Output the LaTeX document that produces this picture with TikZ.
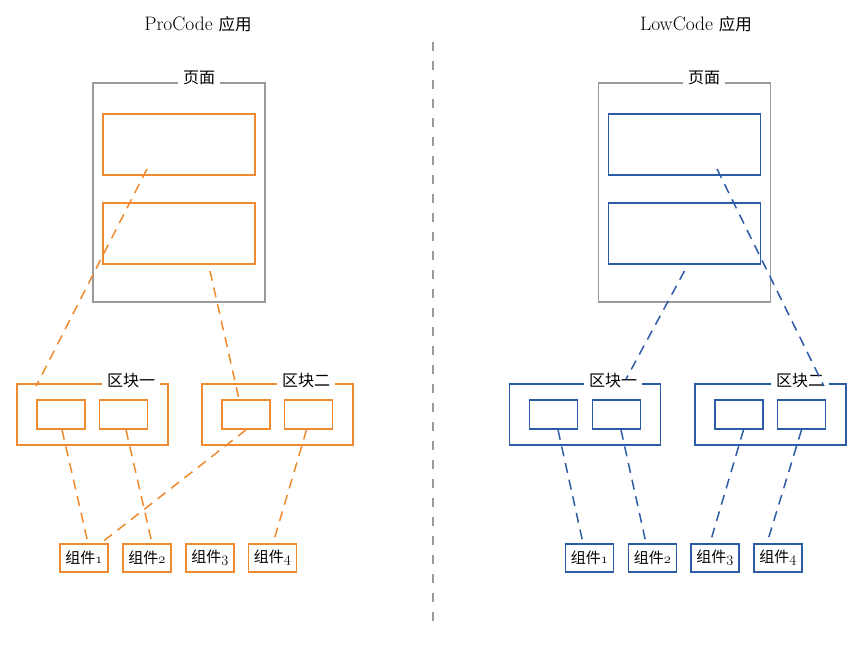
\documentclass[tikz,border=0pt]{standalone}
\usepackage{fontspec}
\newfontfamily\cjk{Noto Sans CJK SC}
\usepackage{tikz}

\definecolor{procode}{HTML}{EF8A2E}
\definecolor{lowcode}{HTML}{2C5CA6}
\definecolor{pagegray}{HTML}{9A9A9A}

\newcommand\osn[1]{\ensuremath{\mathnormal{#1}}}

\tikzset{
	pagebox/.style={draw=pagegray, line width=1.6pt, minimum width=172pt, minimum height=219pt, inner sep=0pt},
	secbox/.style={line width=1.8pt, minimum width=152pt, minimum height=61pt, inner sep=0pt},
	blockbox/.style={line width=1.8pt, minimum width=151pt, minimum height=61pt, inner sep=0pt},
	slotbox/.style={line width=1.8pt, minimum width=48pt, minimum height=29pt, inner sep=0pt},
	compbox/.style={line width=1.8pt, minimum width=48pt, minimum height=28pt, inner sep=0pt, font=\fontsize{15}{17}\selectfont},
	boxlabel/.style={fill=white, inner xsep=5pt, inner ysep=1pt, font=\fontsize{16}{18}\selectfont\cjk},
	titlelabel/.style={font=\fontsize{19.5}{22}\selectfont},
	link/.style={line width=1.5pt, dash pattern=on 10pt off 7pt},
}

\begin{document}
\begin{tikzpicture}[x=1pt, y=-1pt]
		\useasboundingbox (0,0) rectangle (866,645);
		
		\draw[pagegray, line width=1.4pt, dash pattern=on 9pt off 10pt] (433,42) -- (433,628);
		
		% ProCode
		\node[titlelabel] (pl_title) at (198,24) {ProCode {\fontsize{16.5}{20}\selectfont\cjk 应用}};
		\node[pagebox] (pl_page) at (179,192.5) {};
		\node[boxlabel] (pl_page_t) at (199,78) {页面};
		\node[secbox, draw=procode] (pl_sec1) at (179,144.5) {};
		\node[secbox, draw=procode] (pl_sec2) at (179,233.5) {};
		
		\node[blockbox, draw=procode] (pl_blk1) at (92.5,414.5) {};
		\node[boxlabel] (pl_blk1_t) at (131,381) {区块一};
		\node[slotbox, draw=procode] (pl_blk1a) at (61,414.5) {};
		\node[slotbox, draw=procode] (pl_blk1b) at (123.5,414.5) {};
		
		\node[blockbox, draw=procode] (pl_blk2) at (277.5,414.5) {};
		\node[boxlabel] (pl_blk2_t) at (306,381) {区块二};
		\node[slotbox, draw=procode] (pl_blk2a) at (246,414.5) {};
		\node[slotbox, draw=procode] (pl_blk2b) at (308.5,414.5) {};
		
		\node[compbox, draw=procode] (pl_comp1) at (84,558) {{\cjk 组件}\osn{1}};
		\node[compbox, draw=procode] (pl_comp2) at (147,558) {{\cjk 组件}\osn{2}};
		\node[compbox, draw=procode] (pl_comp3) at (210,558) {{\cjk 组件}\osn{3}};
		\node[compbox, draw=procode] (pl_comp4) at (272.5,558) {{\cjk 组件}\osn{4}};
		
		\draw[link, procode] ([xshift=-32pt,yshift=7pt]pl_sec1.south) -- ([xshift=20pt,yshift=-3pt]pl_blk1.north west);
		\draw[link, procode] ([xshift=31pt,yshift=-6pt]pl_sec2.south) -- ([xshift=-7pt]pl_blk2a.north);
		\draw[link, procode] ([xshift=1pt]pl_blk1a.south) -- ([xshift=4pt]pl_comp1.north);
		\draw[link, procode] ([xshift=2.5pt]pl_blk1b.south) -- ([xshift=5pt]pl_comp2.north);
		\draw[link, procode] (pl_blk2a.south) -- ([xshift=-8pt]pl_comp1.north east);
		\draw[link, procode] ([xshift=-2pt]pl_blk2b.south) -- ([xshift=0.5pt]pl_comp4.north);
		
		% LowCode
		\node[titlelabel] (pr_title) at (696,24) {LowCode {\fontsize{16.5}{20}\selectfont\cjk 应用}};
		\node[pagebox] (pr_page) at (684.5,192.5) {};
		\node[boxlabel] (pr_page_t) at (704,78) {页面};
		\node[secbox, draw=lowcode] (pr_sec1) at (684.5,144.5) {};
		\node[secbox, draw=lowcode] (pr_sec2) at (684.5,233.5) {};
		
		\node[blockbox, draw=lowcode] (pr_blk1) at (585,414.5) {};
		\node[boxlabel] (pr_blk1_t) at (613,381) {区块一};
		\node[slotbox, draw=lowcode] (pr_blk1a) at (553.5,414.5) {};
		\node[slotbox, draw=lowcode] (pr_blk1b) at (616.5,414.5) {};
		
		\node[blockbox, draw=lowcode] (pr_blk2) at (770.5,414.5) {};
		\node[boxlabel] (pr_blk2_t) at (800,381) {区块二};
		\node[slotbox, draw=lowcode] (pr_blk2a) at (739,414.5) {};
		\node[slotbox, draw=lowcode] (pr_blk2b) at (801.5,414.5) {};
		
		\node[compbox, draw=lowcode] (pr_comp1) at (589.5,558) {{\cjk 组件}\osn{1}};
		\node[compbox, draw=lowcode] (pr_comp2) at (652.5,558) {{\cjk 组件}\osn{2}};
		\node[compbox, draw=lowcode] (pr_comp3) at (715,558) {{\cjk 组件}\osn{3}};
		\node[compbox, draw=lowcode] (pr_comp4) at (778,558) {{\cjk 组件}\osn{4}};
		
		\draw[link, lowcode] ([xshift=32.5pt,yshift=7pt]pr_sec1.south) -- ([xshift=-23pt,yshift=-3pt]pr_blk2.north east);
		\draw[link, lowcode] ([yshift=-6pt]pr_sec2.south) -- ([xshift=41pt,yshift=4pt]pr_blk1.north);
		\draw[link, lowcode] ([xshift=4.5pt]pr_blk1a.south) -- ([xshift=-6.5pt]pr_comp1.north);
		\draw[link, lowcode] ([xshift=4.5pt]pr_blk1b.south) -- ([xshift=-6.5pt]pr_comp2.north);
		\draw[link, lowcode] ([xshift=4.5pt]pr_blk2a.south) -- ([xshift=-5pt]pr_comp3.north);
		\draw[link, lowcode] (pr_blk2b.south) -- ([xshift=-11pt]pr_comp4.north);
	\end{tikzpicture}
\end{document}
